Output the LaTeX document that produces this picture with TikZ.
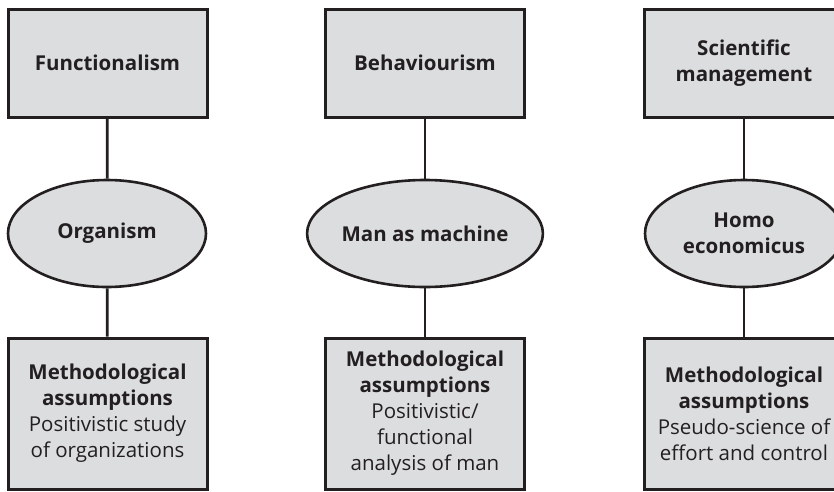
\documentclass[tikz,border=0pt]{standalone}
\usepackage{fontspec}
\setmainfont{Open Sans}
\usetikzlibrary{shapes.geometric}
\definecolor{boxgray}{HTML}{DCDDDF}
\definecolor{ink}{HTML}{231F20}
\begin{document}
\begin{tikzpicture}[x=1pt,y=-1pt,
  every node/.style={font=\fontsize{20.5}{26}\selectfont, text=ink, align=center},
  headbox/.style={draw=ink, line width=3pt, fill=boxgray, rectangle,
    minimum width=199pt, minimum height=108pt, inner sep=0pt, font=\fontsize{20.5}{26}\selectfont\bfseries},
  ovalnode/.style={draw=ink, line width=2.6pt, fill=boxgray, ellipse,
    minimum width=198pt, minimum height=107pt, inner sep=0pt, font=\fontsize{20.5}{26}\selectfont\bfseries},
  footbox/.style={draw=ink, line width=3pt, fill=boxgray, rectangle,
    minimum width=199pt, minimum height=151pt, inner sep=0pt},
  link/.style={draw=ink, line width=2.8pt}]
\useasboundingbox (0,0) rectangle (834,491);
\clip (0,0) rectangle (834,491);

% column 1
\node[headbox] (f) at (107.5,63) {Functionalism};
\node[ovalnode] (o) at (107,233.5) {Organism};
\node[footbox] (m1) at (107.5,413.5) {\textbf{Methodological}\\\textbf{assumptions}\\Positivistic study\\of organizations};

% column 2
\node[headbox] (b) at (425,63) {Behaviourism};
\node[ovalnode] (mm) at (425,233.5) {Man as machine};
\node[footbox] (m2) at (425,413.5) {\textbf{Methodological}\\\textbf{assumptions}\\Positivistic/\\functional\\analysis of man};

% column 3
\node[headbox] (s) at (744,63) {Scientific\\management};
\node[ovalnode] (h) at (744,233.5) {Homo\\economicus};
\node[footbox] (m3) at (744,413.5) {\textbf{Methodological}\\\textbf{assumptions}\\Pseudo-science of\\effort and control};

\draw[link] (f) -- (o);
\draw[link] (o) -- (m1);
\draw[link] (b) -- (mm);
\draw[link] (mm) -- (m2);
\draw[link] (s) -- (h);
\draw[link] (h) -- (m3);
\end{tikzpicture}
\end{document}
